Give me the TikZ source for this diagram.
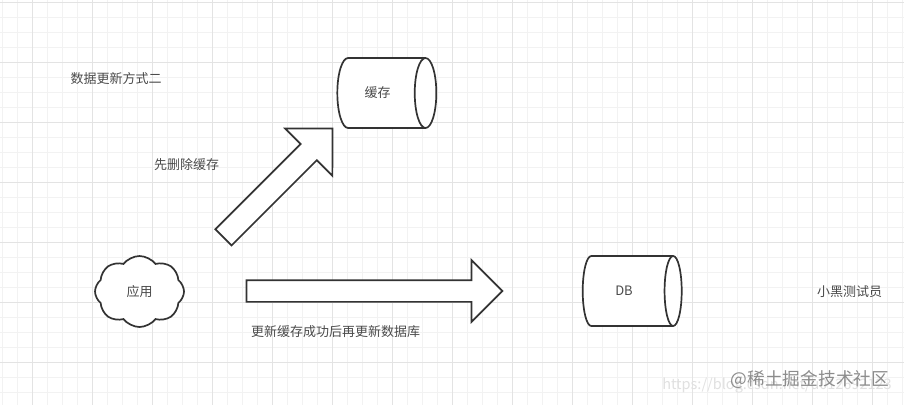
\documentclass[tikz,border=0pt]{standalone}
\usepackage{fontspec}
\setmainfont{Noto Sans CJK SC}
\usetikzlibrary{shapes.geometric,shapes.symbols,shapes.arrows}
\definecolor{inkline}{HTML}{333333}
\definecolor{inktext}{HTML}{4A4A4A}
\tikzset{
  store/.style={cylinder,draw=inkline,line width=1.7pt,fill=white,shape aspect=1.8,minimum width=70pt,minimum height=99pt,inner sep=0pt,text=inktext,font=\fontsize{13}{15}\selectfont},
  blockarrow/.style={single arrow,draw=inkline,line width=1.7pt,fill=white,single arrow tip angle=90},
  label/.style={text=inktext,inner sep=0pt,font=\fontsize{13}{15}\selectfont},
}
\begin{document}
\begin{tikzpicture}[x=1pt,y=-1pt]
\useasboundingbox (0,0) rectangle (904,405);
\fill[white] (0,0) rectangle (904,405);
% grid
\foreach \i in {0,...,60} {
  \draw[color=black!5,line width=0.8pt] ({2.5+15*\i},0) -- ({2.5+15*\i},405);
}
\foreach \i in {0,...,27} {
  \draw[color=black!5,line width=0.8pt] (0,{2.7+15*\i}) -- (904,{2.7+15*\i});
}
\foreach \i in {0,...,14} {
  \draw[color=black!11,line width=0.8pt] ({32.5+60*\i},0) -- ({32.5+60*\i},405);
}
\foreach \i in {0,...,6} {
  \draw[color=black!11,line width=0.8pt] (0,{2.7+60*\i}) -- (904,{2.7+60*\i});
}
% shapes
\node [store] (cache) at (381,93) {缓存\kern7pt};
\node [store] (db) at (627.5,291) {DB\kern7pt};
\node [cloud,draw=inkline,line width=1.7pt,fill=white,cloud puffs=8,cloud puff arc=105,aspect=1.25,minimum width=89pt,minimum height=71pt,inner sep=0pt,text=inktext,font=\fontsize{13}{15}\selectfont] (app) at (139.5,291.5) {应用};
\node [blockarrow,inner sep=10.6pt,minimum width=65pt,minimum height=154pt,single arrow head extend=22pt,rotate=45] (arrowcache) at (273.9,186.9) {};
\node [blockarrow,inner sep=10pt,minimum width=60pt,minimum height=256pt,single arrow head extend=20pt] (arrowdb) at (369,291) {};
% texts
\node [label] (title) at (116,78.5) {数据更新方式二};
\node [label] (delcache) at (186.5,164.5) {先删除缓存};
\node [label] (updatedb) at (335.5,331.5) {更新缓存成功后再更新数据库};
\node [label] (author) at (849.5,291.5) {小黑测试员};
\node [text=black!12,inner sep=0pt,font=\fontsize{14.5}{16}\selectfont] (csdn) at (777,386) {https://blog.csdn.net/u012692123};
\node [text=black!45,inner sep=0pt,font=\fontsize{17.7}{20}\selectfont] (mark) at (810,380) {@稀土掘金技术社区};
\end{tikzpicture}
\end{document}
